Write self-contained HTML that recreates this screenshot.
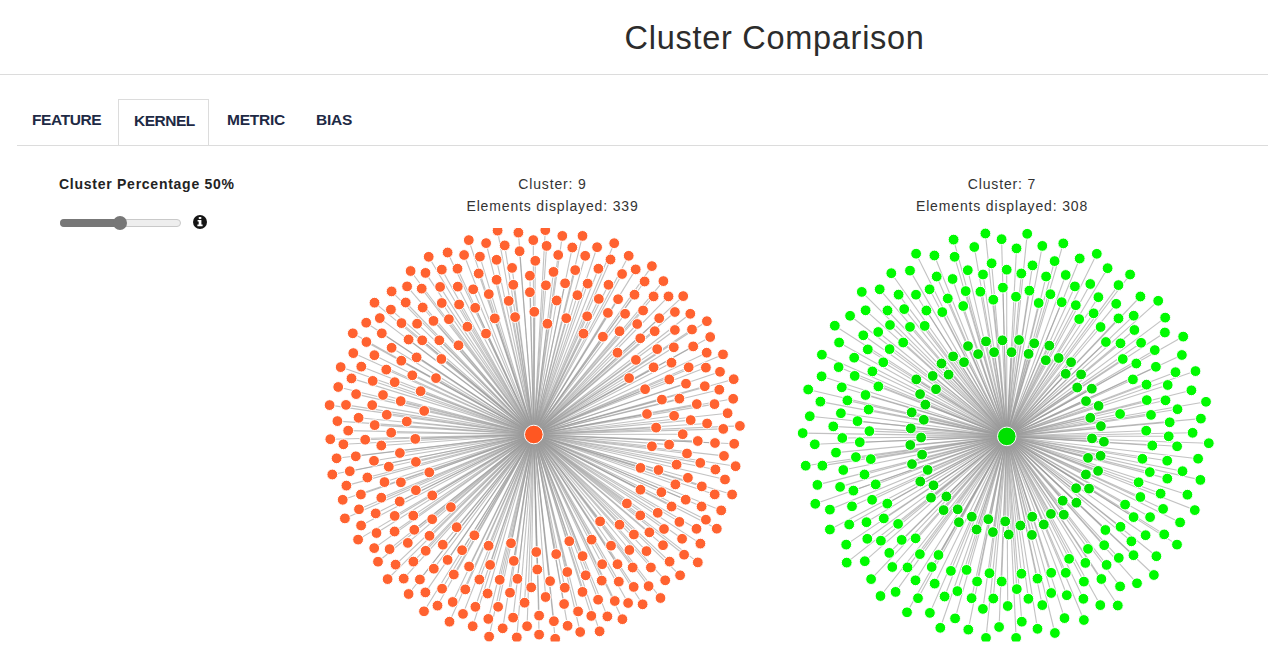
<!DOCTYPE html>
<html><head><meta charset="utf-8"><title>Cluster Comparison</title>
<style>
html,body{margin:0;padding:0;background:#fff;width:1268px;height:672px;overflow:hidden;}
body{font-family:"Liberation Sans",sans-serif;color:#333;position:relative;}
.abs{position:absolute;white-space:nowrap;}
h1{position:absolute;margin:0;left:624.5px;top:20.5px;font-size:32.5px;line-height:34px;font-weight:normal;color:#2c2c2c;letter-spacing:0.72px;}
.hr1{position:absolute;left:0;top:74px;width:1268px;height:1px;background:#dcdcdc;}
.hr2{position:absolute;left:17px;top:145px;width:1251px;height:1px;background:#dcdcdc;}
.tab{position:absolute;font-weight:bold;font-size:15.5px;line-height:16px;color:#1e2a45;top:112.3px;letter-spacing:-0.25px;}
.tabbox{position:absolute;left:118px;top:99px;width:89px;height:46px;border:1px solid #dcdcdc;border-bottom:none;background:#fff;}
.lbl{position:absolute;font-weight:bold;font-size:14px;line-height:14px;color:#232323;left:59px;top:177px;letter-spacing:0.74px;}
.track{position:absolute;left:60px;top:219px;width:119px;height:6px;border-radius:4px;background:#eeeeee;border:1px solid #c9c9c9;}
.fill{position:absolute;left:60px;top:219px;width:62px;height:8px;border-radius:4px;background:#777;}
.thumb{position:absolute;left:113px;top:216px;width:14px;height:14px;border-radius:50%;background:#777;}
.info{position:absolute;left:193.2px;top:214.9px;width:14px;height:14px;border-radius:50%;background:#151515;}
.cap{position:absolute;font-size:14px;line-height:22px;color:#333;text-align:center;width:300px;letter-spacing:0.85px;}
svg{position:absolute;left:0;top:0;}
.lk line{stroke:#999;stroke-opacity:0.6;stroke-width:1.1;}

.on circle{fill:#ff6230;stroke:#fff;stroke-width:1;}
.gn circle{fill:#00fa00;stroke:#fff;stroke-width:1;} .gn .in{fill:#00e200;}
.on .ctr{fill:#ff5722;} .gn .ctr{fill:#00e000;}
</style></head><body>
<h1>Cluster Comparison</h1>
<div class="hr1"></div>
<div class="tabbox"></div>
<div class="hr2"></div>
<div class="tab" style="left:32px;letter-spacing:-0.4px">FEATURE</div>
<div class="tab" style="left:134px;top:112.8px;letter-spacing:-0.5px">KERNEL</div>
<div class="tab" style="left:227px">METRIC</div>
<div class="tab" style="left:316px">BIAS</div>
<div class="lbl">Cluster Percentage 50%</div>
<div class="track"></div><div class="fill"></div><div class="thumb"></div>
<div class="info"><svg width="14" height="14" viewBox="0 0 14 14" style="position:absolute;left:0;top:0"><rect x="5.6" y="2.1" width="2.9" height="1.9" rx="0.9" fill="#fff"/><path d="M4.6 5H8.4V9.6H9.6V11.2H4.4V9.6H5.7V6.4H4.6Z" fill="#fff"/></svg></div>
<div class="cap" style="left:402.5px;top:173px">Cluster: 9<br>Elements displayed: 339</div>
<div class="cap" style="left:852px;top:173px">Cluster: 7<br>Elements displayed: 308</div>
<svg width="1268" height="672" viewBox="0 0 1268 672"><defs><clipPath id="cp"><rect x="0" y="228" width="1268" height="413.6"/></clipPath></defs><g clip-path="url(#cp)"><g class="lk"><line x1="533.8" y1="434.5" x2="497.6" y2="230.6"/><line x1="533.8" y1="434.5" x2="518.4" y2="232.6"/><line x1="533.8" y1="434.5" x2="533.3" y2="240.1"/><line x1="533.8" y1="434.5" x2="468.8" y2="240.1"/><line x1="533.8" y1="434.5" x2="486.1" y2="243.1"/><line x1="533.8" y1="434.5" x2="504.7" y2="245.4"/><line x1="533.8" y1="434.5" x2="519.6" y2="251.2"/><line x1="533.8" y1="434.5" x2="447.6" y2="252.5"/><line x1="533.8" y1="434.5" x2="464.1" y2="255.0"/><line x1="533.8" y1="434.5" x2="479.9" y2="256.6"/><line x1="533.8" y1="434.5" x2="428.7" y2="256.8"/><line x1="533.8" y1="434.5" x2="496.6" y2="259.8"/><line x1="533.8" y1="434.5" x2="535.3" y2="260.8"/><line x1="533.8" y1="434.5" x2="512.1" y2="267.9"/><line x1="533.8" y1="434.5" x2="410.6" y2="271.0"/><line x1="533.8" y1="434.5" x2="425.5" y2="272.9"/><line x1="533.8" y1="434.5" x2="441.8" y2="269.6"/><line x1="533.8" y1="434.5" x2="457.5" y2="268.7"/><line x1="533.8" y1="434.5" x2="478.7" y2="273.5"/><line x1="533.8" y1="434.5" x2="529.9" y2="275.7"/><line x1="533.8" y1="434.5" x2="496.6" y2="279.8"/><line x1="533.8" y1="434.5" x2="513.3" y2="284.8"/><line x1="533.8" y1="434.5" x2="407.1" y2="286.4"/><line x1="533.8" y1="434.5" x2="421.7" y2="288.6"/><line x1="533.8" y1="434.5" x2="440.1" y2="286.9"/><line x1="533.8" y1="434.5" x2="457.8" y2="286.6"/><line x1="533.8" y1="434.5" x2="473.2" y2="289.3"/><line x1="533.8" y1="434.5" x2="391.6" y2="291.4"/><line x1="533.8" y1="434.5" x2="488.8" y2="294.1"/><line x1="533.8" y1="434.5" x2="529.9" y2="292.2"/><line x1="533.8" y1="434.5" x2="374.5" y2="302.7"/><line x1="533.8" y1="434.5" x2="405.7" y2="302.5"/><line x1="533.8" y1="434.5" x2="441.8" y2="303.0"/><line x1="533.8" y1="434.5" x2="459.1" y2="304.5"/><line x1="533.8" y1="434.5" x2="508.7" y2="300.9"/><line x1="533.8" y1="434.5" x2="422.7" y2="307.5"/><line x1="533.8" y1="434.5" x2="390.9" y2="309.6"/><line x1="533.8" y1="434.5" x2="475.2" y2="307.8"/><line x1="533.8" y1="434.5" x2="534.3" y2="311.8"/><line x1="533.8" y1="434.5" x2="379.8" y2="318.1"/><line x1="533.8" y1="434.5" x2="494.8" y2="318.4"/><line x1="533.8" y1="434.5" x2="515.1" y2="317.1"/><line x1="533.8" y1="434.5" x2="366.2" y2="322.7"/><line x1="533.8" y1="434.5" x2="401.5" y2="323.1"/><line x1="533.8" y1="434.5" x2="417.1" y2="323.7"/><line x1="533.8" y1="434.5" x2="433.5" y2="320.9"/><line x1="533.8" y1="434.5" x2="448.9" y2="319.2"/><line x1="533.8" y1="434.5" x2="467.4" y2="326.7"/><line x1="533.8" y1="434.5" x2="352.8" y2="333.3"/><line x1="533.8" y1="434.5" x2="381.8" y2="333.3"/><line x1="533.8" y1="434.5" x2="486.0" y2="333.6"/><line x1="533.8" y1="434.5" x2="545.3" y2="230.1"/><line x1="533.8" y1="434.5" x2="562.3" y2="235.9"/><line x1="533.8" y1="434.5" x2="582.5" y2="235.9"/><line x1="533.8" y1="434.5" x2="614.2" y2="243.2"/><line x1="533.8" y1="434.5" x2="546.6" y2="245.9"/><line x1="533.8" y1="434.5" x2="572.3" y2="247.5"/><line x1="533.8" y1="434.5" x2="597.1" y2="247.2"/><line x1="533.8" y1="434.5" x2="558.2" y2="255.0"/><line x1="533.8" y1="434.5" x2="585.2" y2="255.8"/><line x1="533.8" y1="434.5" x2="628.7" y2="255.8"/><line x1="533.8" y1="434.5" x2="610.5" y2="259.5"/><line x1="533.8" y1="434.5" x2="651.9" y2="266.1"/><line x1="533.8" y1="434.5" x2="553.5" y2="271.9"/><line x1="533.8" y1="434.5" x2="575.2" y2="270.1"/><line x1="533.8" y1="434.5" x2="598.4" y2="268.7"/><line x1="533.8" y1="434.5" x2="622.1" y2="274.0"/><line x1="533.8" y1="434.5" x2="635.7" y2="269.4"/><line x1="533.8" y1="434.5" x2="644.6" y2="281.5"/><line x1="533.8" y1="434.5" x2="663.4" y2="281.1"/><line x1="533.8" y1="434.5" x2="545.9" y2="285.3"/><line x1="533.8" y1="434.5" x2="565.1" y2="283.3"/><line x1="533.8" y1="434.5" x2="587.7" y2="283.6"/><line x1="533.8" y1="434.5" x2="608.5" y2="284.8"/><line x1="533.8" y1="434.5" x2="556.7" y2="300.5"/><line x1="533.8" y1="434.5" x2="577.4" y2="295.2"/><line x1="533.8" y1="434.5" x2="598.8" y2="298.9"/><line x1="533.8" y1="434.5" x2="618.1" y2="299.2"/><line x1="533.8" y1="434.5" x2="634.5" y2="294.7"/><line x1="533.8" y1="434.5" x2="653.6" y2="296.4"/><line x1="533.8" y1="434.5" x2="668.5" y2="296.4"/><line x1="533.8" y1="434.5" x2="683.2" y2="296.1"/><line x1="533.8" y1="434.5" x2="607.9" y2="312.9"/><line x1="533.8" y1="434.5" x2="625.1" y2="313.8"/><line x1="533.8" y1="434.5" x2="643.1" y2="310.5"/><line x1="533.8" y1="434.5" x2="674.9" y2="312.0"/><line x1="533.8" y1="434.5" x2="690.3" y2="313.8"/><line x1="533.8" y1="434.5" x2="659.2" y2="318.2"/><line x1="533.8" y1="434.5" x2="547.4" y2="323.7"/><line x1="533.8" y1="434.5" x2="566.3" y2="318.2"/><line x1="533.8" y1="434.5" x2="587.2" y2="316.3"/><line x1="533.8" y1="434.5" x2="637.2" y2="324.0"/><line x1="533.8" y1="434.5" x2="706.9" y2="321.2"/><line x1="533.8" y1="434.5" x2="619.6" y2="331.2"/><line x1="533.8" y1="434.5" x2="654.7" y2="331.2"/><line x1="533.8" y1="434.5" x2="674.9" y2="330.0"/><line x1="533.8" y1="434.5" x2="692.0" y2="329.5"/><line x1="533.8" y1="434.5" x2="583.5" y2="333.6"/><line x1="533.8" y1="434.5" x2="602.9" y2="336.7"/><line x1="533.8" y1="434.5" x2="640.3" y2="338.3"/><line x1="533.8" y1="434.5" x2="710.2" y2="337.0"/><line x1="533.8" y1="434.5" x2="408.6" y2="339.5"/><line x1="533.8" y1="434.5" x2="422.2" y2="340.3"/><line x1="533.8" y1="434.5" x2="439.3" y2="340.3"/><line x1="533.8" y1="434.5" x2="366.4" y2="342.0"/><line x1="533.8" y1="434.5" x2="391.6" y2="347.8"/><line x1="533.8" y1="434.5" x2="458.5" y2="345.3"/><line x1="533.8" y1="434.5" x2="353.3" y2="353.1"/><line x1="533.8" y1="434.5" x2="374.4" y2="355.2"/><line x1="533.8" y1="434.5" x2="416.6" y2="357.4"/><line x1="533.8" y1="434.5" x2="441.4" y2="359.0"/><line x1="533.8" y1="434.5" x2="401.3" y2="360.7"/><line x1="533.8" y1="434.5" x2="340.7" y2="367.1"/><line x1="533.8" y1="434.5" x2="361.3" y2="366.6"/><line x1="533.8" y1="434.5" x2="386.3" y2="369.6"/><line x1="533.8" y1="434.5" x2="412.3" y2="375.3"/><line x1="533.8" y1="434.5" x2="436.0" y2="378.1"/><line x1="533.8" y1="434.5" x2="351.5" y2="378.4"/><line x1="533.8" y1="434.5" x2="372.7" y2="380.9"/><line x1="533.8" y1="434.5" x2="394.7" y2="382.2"/><line x1="533.8" y1="434.5" x2="338.2" y2="387.0"/><line x1="533.8" y1="434.5" x2="420.6" y2="391.2"/><line x1="533.8" y1="434.5" x2="356.1" y2="394.1"/><line x1="533.8" y1="434.5" x2="383.0" y2="395.0"/><line x1="533.8" y1="434.5" x2="400.7" y2="401.1"/><line x1="533.8" y1="434.5" x2="329.6" y2="405.1"/><line x1="533.8" y1="434.5" x2="346.0" y2="404.9"/><line x1="533.8" y1="434.5" x2="372.2" y2="405.1"/><line x1="533.8" y1="434.5" x2="424.2" y2="410.9"/><line x1="533.8" y1="434.5" x2="386.8" y2="414.8"/><line x1="533.8" y1="434.5" x2="358.6" y2="417.8"/><line x1="533.8" y1="434.5" x2="337.4" y2="421.1"/><line x1="533.8" y1="434.5" x2="406.8" y2="421.5"/><line x1="533.8" y1="434.5" x2="374.7" y2="425.1"/><line x1="533.8" y1="434.5" x2="348.2" y2="430.6"/><line x1="533.8" y1="434.5" x2="391.2" y2="432.7"/><line x1="533.8" y1="434.5" x2="415.3" y2="438.9"/><line x1="533.8" y1="434.5" x2="330.3" y2="439.2"/><line x1="533.8" y1="434.5" x2="365.2" y2="439.7"/><line x1="533.8" y1="434.5" x2="343.4" y2="444.3"/><line x1="533.8" y1="434.5" x2="381.3" y2="445.5"/><line x1="533.8" y1="434.5" x2="617.5" y2="352.7"/><line x1="533.8" y1="434.5" x2="657.2" y2="349.1"/><line x1="533.8" y1="434.5" x2="673.8" y2="347.3"/><line x1="533.8" y1="434.5" x2="693.2" y2="346.4"/><line x1="533.8" y1="434.5" x2="706.7" y2="352.7"/><line x1="533.8" y1="434.5" x2="723.0" y2="354.4"/><line x1="533.8" y1="434.5" x2="635.9" y2="359.9"/><line x1="533.8" y1="434.5" x2="653.6" y2="367.3"/><line x1="533.8" y1="434.5" x2="671.5" y2="362.7"/><line x1="533.8" y1="434.5" x2="688.7" y2="367.3"/><line x1="533.8" y1="434.5" x2="705.9" y2="367.6"/><line x1="533.8" y1="434.5" x2="720.0" y2="371.8"/><line x1="533.8" y1="434.5" x2="629.1" y2="378.1"/><line x1="533.8" y1="434.5" x2="669.3" y2="379.4"/><line x1="533.8" y1="434.5" x2="686.0" y2="383.7"/><line x1="533.8" y1="434.5" x2="704.8" y2="386.2"/><line x1="533.8" y1="434.5" x2="733.7" y2="379.2"/><line x1="533.8" y1="434.5" x2="645.1" y2="389.2"/><line x1="533.8" y1="434.5" x2="719.3" y2="389.7"/><line x1="533.8" y1="434.5" x2="661.9" y2="399.6"/><line x1="533.8" y1="434.5" x2="679.4" y2="398.6"/><line x1="533.8" y1="434.5" x2="696.8" y2="404.1"/><line x1="533.8" y1="434.5" x2="714.5" y2="404.1"/><line x1="533.8" y1="434.5" x2="733.2" y2="398.8"/><line x1="533.8" y1="434.5" x2="647.0" y2="414.0"/><line x1="533.8" y1="434.5" x2="674.1" y2="415.8"/><line x1="533.8" y1="434.5" x2="690.7" y2="420.1"/><line x1="533.8" y1="434.5" x2="727.6" y2="413.2"/><line x1="533.8" y1="434.5" x2="707.1" y2="423.5"/><line x1="533.8" y1="434.5" x2="739.9" y2="425.9"/><line x1="533.8" y1="434.5" x2="723.3" y2="428.9"/><line x1="533.8" y1="434.5" x2="656.1" y2="427.6"/><line x1="533.8" y1="434.5" x2="682.7" y2="434.2"/><line x1="533.8" y1="434.5" x2="697.8" y2="441.0"/><line x1="533.8" y1="434.5" x2="715.0" y2="443.0"/><line x1="533.8" y1="434.5" x2="734.2" y2="443.8"/><line x1="533.8" y1="434.5" x2="651.9" y2="446.3"/><line x1="533.8" y1="434.5" x2="669.1" y2="444.6"/><line x1="533.8" y1="434.5" x2="399.9" y2="453.0"/><line x1="533.8" y1="434.5" x2="336.6" y2="458.3"/><line x1="533.8" y1="434.5" x2="355.8" y2="456.3"/><line x1="533.8" y1="434.5" x2="374.0" y2="460.8"/><line x1="533.8" y1="434.5" x2="415.9" y2="461.9"/><line x1="533.8" y1="434.5" x2="388.8" y2="466.7"/><line x1="533.8" y1="434.5" x2="332.3" y2="474.5"/><line x1="533.8" y1="434.5" x2="349.8" y2="471.2"/><line x1="533.8" y1="434.5" x2="429.3" y2="472.3"/><line x1="533.8" y1="434.5" x2="367.4" y2="477.5"/><line x1="533.8" y1="434.5" x2="384.5" y2="482.1"/><line x1="533.8" y1="434.5" x2="400.9" y2="482.3"/><line x1="533.8" y1="434.5" x2="346.4" y2="485.6"/><line x1="533.8" y1="434.5" x2="415.9" y2="490.2"/><line x1="533.8" y1="434.5" x2="360.9" y2="494.5"/><line x1="533.8" y1="434.5" x2="432.3" y2="495.4"/><line x1="533.8" y1="434.5" x2="381.3" y2="497.7"/><line x1="533.8" y1="434.5" x2="342.7" y2="499.8"/><line x1="533.8" y1="434.5" x2="399.7" y2="501.5"/><line x1="533.8" y1="434.5" x2="450.9" y2="507.1"/><line x1="533.8" y1="434.5" x2="359.0" y2="509.3"/><line x1="533.8" y1="434.5" x2="375.7" y2="513.4"/><line x1="533.8" y1="434.5" x2="394.7" y2="515.9"/><line x1="533.8" y1="434.5" x2="413.3" y2="515.6"/><line x1="533.8" y1="434.5" x2="432.2" y2="519.2"/><line x1="533.8" y1="434.5" x2="344.9" y2="518.4"/><line x1="533.8" y1="434.5" x2="361.1" y2="525.5"/><line x1="533.8" y1="434.5" x2="456.7" y2="527.2"/><line x1="533.8" y1="434.5" x2="376.5" y2="533.0"/><line x1="533.8" y1="434.5" x2="394.6" y2="531.5"/><line x1="533.8" y1="434.5" x2="414.3" y2="529.8"/><line x1="533.8" y1="434.5" x2="429.5" y2="535.8"/><line x1="533.8" y1="434.5" x2="474.4" y2="535.3"/><line x1="533.8" y1="434.5" x2="358.1" y2="539.6"/><line x1="533.8" y1="434.5" x2="442.8" y2="544.7"/><line x1="533.8" y1="434.5" x2="374.2" y2="548.1"/><line x1="533.8" y1="434.5" x2="389.6" y2="549.1"/><line x1="533.8" y1="434.5" x2="407.8" y2="542.9"/><line x1="533.8" y1="434.5" x2="425.7" y2="550.8"/><line x1="533.8" y1="434.5" x2="462.1" y2="550.2"/><line x1="533.8" y1="434.5" x2="488.6" y2="545.7"/><line x1="533.8" y1="434.5" x2="511.0" y2="543.2"/><line x1="533.8" y1="434.5" x2="687.0" y2="453.5"/><line x1="533.8" y1="434.5" x2="724.0" y2="455.9"/><line x1="533.8" y1="434.5" x2="640.5" y2="467.9"/><line x1="533.8" y1="434.5" x2="658.5" y2="470.0"/><line x1="533.8" y1="434.5" x2="676.6" y2="464.6"/><line x1="533.8" y1="434.5" x2="700.3" y2="462.9"/><line x1="533.8" y1="434.5" x2="715.4" y2="469.5"/><line x1="533.8" y1="434.5" x2="735.6" y2="466.2"/><line x1="533.8" y1="434.5" x2="687.9" y2="477.8"/><line x1="533.8" y1="434.5" x2="725.0" y2="479.5"/><line x1="533.8" y1="434.5" x2="675.4" y2="484.4"/><line x1="533.8" y1="434.5" x2="701.8" y2="486.4"/><line x1="533.8" y1="434.5" x2="640.5" y2="489.7"/><line x1="533.8" y1="434.5" x2="661.4" y2="492.2"/><line x1="533.8" y1="434.5" x2="714.7" y2="494.4"/><line x1="533.8" y1="434.5" x2="732.1" y2="494.5"/><line x1="533.8" y1="434.5" x2="626.9" y2="503.5"/><line x1="533.8" y1="434.5" x2="685.7" y2="499.7"/><line x1="533.8" y1="434.5" x2="671.6" y2="506.5"/><line x1="533.8" y1="434.5" x2="701.6" y2="506.5"/><line x1="533.8" y1="434.5" x2="721.2" y2="510.4"/><line x1="533.8" y1="434.5" x2="640.3" y2="515.4"/><line x1="533.8" y1="434.5" x2="657.7" y2="512.8"/><line x1="533.8" y1="434.5" x2="705.9" y2="519.7"/><line x1="533.8" y1="434.5" x2="600.1" y2="521.4"/><line x1="533.8" y1="434.5" x2="619.5" y2="524.7"/><line x1="533.8" y1="434.5" x2="679.4" y2="521.9"/><line x1="533.8" y1="434.5" x2="664.0" y2="529.0"/><line x1="533.8" y1="434.5" x2="696.5" y2="528.8"/><line x1="533.8" y1="434.5" x2="716.8" y2="528.7"/><line x1="533.8" y1="434.5" x2="633.9" y2="534.5"/><line x1="533.8" y1="434.5" x2="649.4" y2="532.3"/><line x1="533.8" y1="434.5" x2="682.1" y2="538.8"/><line x1="533.8" y1="434.5" x2="700.4" y2="543.6"/><line x1="533.8" y1="434.5" x2="569.3" y2="541.2"/><line x1="533.8" y1="434.5" x2="591.6" y2="539.6"/><line x1="533.8" y1="434.5" x2="611.0" y2="545.7"/><line x1="533.8" y1="434.5" x2="629.4" y2="550.0"/><line x1="533.8" y1="434.5" x2="663.0" y2="545.2"/><line x1="533.8" y1="434.5" x2="646.5" y2="551.1"/><line x1="533.8" y1="434.5" x2="536.3" y2="552.0"/><line x1="533.8" y1="434.5" x2="556.2" y2="554.1"/><line x1="533.8" y1="434.5" x2="582.6" y2="556.1"/><line x1="533.8" y1="434.5" x2="684.1" y2="554.7"/><line x1="533.8" y1="434.5" x2="378.0" y2="561.7"/><line x1="533.8" y1="434.5" x2="395.6" y2="564.6"/><line x1="533.8" y1="434.5" x2="413.4" y2="561.6"/><line x1="533.8" y1="434.5" x2="447.6" y2="559.9"/><line x1="533.8" y1="434.5" x2="433.8" y2="568.7"/><line x1="533.8" y1="434.5" x2="469.1" y2="566.5"/><line x1="533.8" y1="434.5" x2="490.1" y2="564.9"/><line x1="533.8" y1="434.5" x2="513.8" y2="560.9"/><line x1="533.8" y1="434.5" x2="387.6" y2="579.1"/><line x1="533.8" y1="434.5" x2="403.7" y2="578.6"/><line x1="533.8" y1="434.5" x2="419.9" y2="579.5"/><line x1="533.8" y1="434.5" x2="453.8" y2="574.5"/><line x1="533.8" y1="434.5" x2="479.4" y2="579.5"/><line x1="533.8" y1="434.5" x2="499.7" y2="579.8"/><line x1="533.8" y1="434.5" x2="517.4" y2="578.8"/><line x1="533.8" y1="434.5" x2="531.2" y2="587.4"/><line x1="533.8" y1="434.5" x2="408.6" y2="594.0"/><line x1="533.8" y1="434.5" x2="425.4" y2="592.4"/><line x1="533.8" y1="434.5" x2="442.1" y2="588.7"/><line x1="533.8" y1="434.5" x2="465.3" y2="589.4"/><line x1="533.8" y1="434.5" x2="487.6" y2="593.5"/><line x1="533.8" y1="434.5" x2="510.0" y2="592.7"/><line x1="533.8" y1="434.5" x2="524.6" y2="602.7"/><line x1="533.8" y1="434.5" x2="424.0" y2="611.3"/><line x1="533.8" y1="434.5" x2="437.5" y2="605.6"/><line x1="533.8" y1="434.5" x2="452.7" y2="602.0"/><line x1="533.8" y1="434.5" x2="475.4" y2="606.8"/><line x1="533.8" y1="434.5" x2="498.1" y2="606.8"/><line x1="533.8" y1="434.5" x2="463.0" y2="613.9"/><line x1="533.8" y1="434.5" x2="449.5" y2="621.7"/><line x1="533.8" y1="434.5" x2="488.3" y2="618.9"/><line x1="533.8" y1="434.5" x2="513.1" y2="617.6"/><line x1="533.8" y1="434.5" x2="472.7" y2="626.2"/><line x1="533.8" y1="434.5" x2="502.7" y2="628.3"/><line x1="533.8" y1="434.5" x2="527.1" y2="626.2"/><line x1="533.8" y1="434.5" x2="489.1" y2="636.6"/><line x1="533.8" y1="434.5" x2="516.8" y2="637.4"/><line x1="533.8" y1="434.5" x2="537.3" y2="569.5"/><line x1="533.8" y1="434.5" x2="567.3" y2="572.0"/><line x1="533.8" y1="434.5" x2="585.7" y2="575.3"/><line x1="533.8" y1="434.5" x2="602.2" y2="564.2"/><line x1="533.8" y1="434.5" x2="617.5" y2="564.2"/><line x1="533.8" y1="434.5" x2="632.7" y2="567.5"/><line x1="533.8" y1="434.5" x2="650.9" y2="567.5"/><line x1="533.8" y1="434.5" x2="669.6" y2="561.6"/><line x1="533.8" y1="434.5" x2="697.8" y2="562.4"/><line x1="533.8" y1="434.5" x2="680.1" y2="575.3"/><line x1="533.8" y1="434.5" x2="550.1" y2="581.1"/><line x1="533.8" y1="434.5" x2="601.7" y2="580.6"/><line x1="533.8" y1="434.5" x2="618.8" y2="581.6"/><line x1="533.8" y1="434.5" x2="633.7" y2="586.9"/><line x1="533.8" y1="434.5" x2="648.6" y2="586.1"/><line x1="533.8" y1="434.5" x2="665.2" y2="580.3"/><line x1="533.8" y1="434.5" x2="564.8" y2="587.7"/><line x1="533.8" y1="434.5" x2="582.5" y2="591.9"/><line x1="533.8" y1="434.5" x2="545.6" y2="597.0"/><line x1="533.8" y1="434.5" x2="598.1" y2="599.7"/><line x1="533.8" y1="434.5" x2="614.8" y2="601.0"/><line x1="533.8" y1="434.5" x2="628.1" y2="603.0"/><line x1="533.8" y1="434.5" x2="642.6" y2="604.3"/><line x1="533.8" y1="434.5" x2="660.5" y2="598.0"/><line x1="533.8" y1="434.5" x2="564.1" y2="604.0"/><line x1="533.8" y1="434.5" x2="578.1" y2="611.4"/><line x1="533.8" y1="434.5" x2="539.1" y2="615.6"/><line x1="533.8" y1="434.5" x2="591.3" y2="615.9"/><line x1="533.8" y1="434.5" x2="607.4" y2="616.4"/><line x1="533.8" y1="434.5" x2="622.4" y2="619.2"/><line x1="533.8" y1="434.5" x2="553.9" y2="621.2"/><line x1="533.8" y1="434.5" x2="567.6" y2="625.8"/><line x1="533.8" y1="434.5" x2="580.2" y2="632.0"/><line x1="533.8" y1="434.5" x2="599.6" y2="631.3"/><line x1="533.8" y1="434.5" x2="539.1" y2="634.6"/><line x1="533.8" y1="434.5" x2="555.2" y2="638.8"/></g><g class="on"><circle cx="497.6" cy="230.6" r="5.4"/><circle cx="518.4" cy="232.6" r="5.4"/><circle cx="533.3" cy="240.1" r="5.4"/><circle cx="468.8" cy="240.1" r="5.4"/><circle cx="486.1" cy="243.1" r="5.4"/><circle cx="504.7" cy="245.4" r="5.4"/><circle cx="519.6" cy="251.2" r="5.4"/><circle cx="447.6" cy="252.5" r="5.4"/><circle cx="464.1" cy="255.0" r="5.4"/><circle cx="479.9" cy="256.6" r="5.4"/><circle cx="428.7" cy="256.8" r="5.4"/><circle cx="496.6" cy="259.8" r="5.4"/><circle cx="535.3" cy="260.8" r="5.4"/><circle cx="512.1" cy="267.9" r="5.4"/><circle cx="410.6" cy="271.0" r="5.4"/><circle cx="425.5" cy="272.9" r="5.4"/><circle cx="441.8" cy="269.6" r="5.4"/><circle cx="457.5" cy="268.7" r="5.4"/><circle cx="478.7" cy="273.5" r="5.4"/><circle cx="529.9" cy="275.7" r="5.4"/><circle cx="496.6" cy="279.8" r="5.4"/><circle cx="513.3" cy="284.8" r="5.4"/><circle cx="407.1" cy="286.4" r="5.4"/><circle cx="421.7" cy="288.6" r="5.4"/><circle cx="440.1" cy="286.9" r="5.4"/><circle cx="457.8" cy="286.6" r="5.4"/><circle cx="473.2" cy="289.3" r="5.4"/><circle cx="391.6" cy="291.4" r="5.4"/><circle cx="488.8" cy="294.1" r="5.4"/><circle cx="529.9" cy="292.2" r="5.4"/><circle cx="374.5" cy="302.7" r="5.4"/><circle cx="405.7" cy="302.5" r="5.4"/><circle cx="441.8" cy="303.0" r="5.4"/><circle cx="459.1" cy="304.5" r="5.4"/><circle cx="508.7" cy="300.9" r="5.4"/><circle cx="422.7" cy="307.5" r="5.4"/><circle cx="390.9" cy="309.6" r="5.4"/><circle cx="475.2" cy="307.8" r="5.4"/><circle cx="534.3" cy="311.8" r="5.4"/><circle cx="379.8" cy="318.1" r="5.4"/><circle cx="494.8" cy="318.4" r="5.4"/><circle cx="515.1" cy="317.1" r="5.4"/><circle cx="366.2" cy="322.7" r="5.4"/><circle cx="401.5" cy="323.1" r="5.4"/><circle cx="417.1" cy="323.7" r="5.4"/><circle cx="433.5" cy="320.9" r="5.4"/><circle cx="448.9" cy="319.2" r="5.4"/><circle cx="467.4" cy="326.7" r="5.4"/><circle cx="352.8" cy="333.3" r="5.4"/><circle cx="381.8" cy="333.3" r="5.4"/><circle cx="486.0" cy="333.6" r="5.4"/><circle cx="545.3" cy="230.1" r="5.4"/><circle cx="562.3" cy="235.9" r="5.4"/><circle cx="582.5" cy="235.9" r="5.4"/><circle cx="614.2" cy="243.2" r="5.4"/><circle cx="546.6" cy="245.9" r="5.4"/><circle cx="572.3" cy="247.5" r="5.4"/><circle cx="597.1" cy="247.2" r="5.4"/><circle cx="558.2" cy="255.0" r="5.4"/><circle cx="585.2" cy="255.8" r="5.4"/><circle cx="628.7" cy="255.8" r="5.4"/><circle cx="610.5" cy="259.5" r="5.4"/><circle cx="651.9" cy="266.1" r="5.4"/><circle cx="553.5" cy="271.9" r="5.4"/><circle cx="575.2" cy="270.1" r="5.4"/><circle cx="598.4" cy="268.7" r="5.4"/><circle cx="622.1" cy="274.0" r="5.4"/><circle cx="635.7" cy="269.4" r="5.4"/><circle cx="644.6" cy="281.5" r="5.4"/><circle cx="663.4" cy="281.1" r="5.4"/><circle cx="545.9" cy="285.3" r="5.4"/><circle cx="565.1" cy="283.3" r="5.4"/><circle cx="587.7" cy="283.6" r="5.4"/><circle cx="608.5" cy="284.8" r="5.4"/><circle cx="556.7" cy="300.5" r="5.4"/><circle cx="577.4" cy="295.2" r="5.4"/><circle cx="598.8" cy="298.9" r="5.4"/><circle cx="618.1" cy="299.2" r="5.4"/><circle cx="634.5" cy="294.7" r="5.4"/><circle cx="653.6" cy="296.4" r="5.4"/><circle cx="668.5" cy="296.4" r="5.4"/><circle cx="683.2" cy="296.1" r="5.4"/><circle cx="607.9" cy="312.9" r="5.4"/><circle cx="625.1" cy="313.8" r="5.4"/><circle cx="643.1" cy="310.5" r="5.4"/><circle cx="674.9" cy="312.0" r="5.4"/><circle cx="690.3" cy="313.8" r="5.4"/><circle cx="659.2" cy="318.2" r="5.4"/><circle cx="547.4" cy="323.7" r="5.4"/><circle cx="566.3" cy="318.2" r="5.4"/><circle cx="587.2" cy="316.3" r="5.4"/><circle cx="637.2" cy="324.0" r="5.4"/><circle cx="706.9" cy="321.2" r="5.4"/><circle cx="619.6" cy="331.2" r="5.4"/><circle cx="654.7" cy="331.2" r="5.4"/><circle cx="674.9" cy="330.0" r="5.4"/><circle cx="692.0" cy="329.5" r="5.4"/><circle cx="583.5" cy="333.6" r="5.4"/><circle cx="602.9" cy="336.7" r="5.4"/><circle cx="640.3" cy="338.3" r="5.4"/><circle cx="710.2" cy="337.0" r="5.4"/><circle cx="408.6" cy="339.5" r="5.4"/><circle cx="422.2" cy="340.3" r="5.4"/><circle cx="439.3" cy="340.3" r="5.4"/><circle cx="366.4" cy="342.0" r="5.4"/><circle cx="391.6" cy="347.8" r="5.4"/><circle cx="458.5" cy="345.3" r="5.4"/><circle cx="353.3" cy="353.1" r="5.4"/><circle cx="374.4" cy="355.2" r="5.4"/><circle cx="416.6" cy="357.4" r="5.4"/><circle cx="441.4" cy="359.0" r="5.4"/><circle cx="401.3" cy="360.7" r="5.4"/><circle cx="340.7" cy="367.1" r="5.4"/><circle cx="361.3" cy="366.6" r="5.4"/><circle cx="386.3" cy="369.6" r="5.4"/><circle cx="412.3" cy="375.3" r="5.4"/><circle cx="436.0" cy="378.1" r="5.4"/><circle cx="351.5" cy="378.4" r="5.4"/><circle cx="372.7" cy="380.9" r="5.4"/><circle cx="394.7" cy="382.2" r="5.4"/><circle cx="338.2" cy="387.0" r="5.4"/><circle cx="420.6" cy="391.2" r="5.4"/><circle cx="356.1" cy="394.1" r="5.4"/><circle cx="383.0" cy="395.0" r="5.4"/><circle cx="400.7" cy="401.1" r="5.4"/><circle cx="329.6" cy="405.1" r="5.4"/><circle cx="346.0" cy="404.9" r="5.4"/><circle cx="372.2" cy="405.1" r="5.4"/><circle cx="424.2" cy="410.9" r="5.4"/><circle cx="386.8" cy="414.8" r="5.4"/><circle cx="358.6" cy="417.8" r="5.4"/><circle cx="337.4" cy="421.1" r="5.4"/><circle cx="406.8" cy="421.5" r="5.4"/><circle cx="374.7" cy="425.1" r="5.4"/><circle cx="348.2" cy="430.6" r="5.4"/><circle cx="391.2" cy="432.7" r="5.4"/><circle cx="415.3" cy="438.9" r="5.4"/><circle cx="330.3" cy="439.2" r="5.4"/><circle cx="365.2" cy="439.7" r="5.4"/><circle cx="343.4" cy="444.3" r="5.4"/><circle cx="381.3" cy="445.5" r="5.4"/><circle cx="617.5" cy="352.7" r="5.4"/><circle cx="657.2" cy="349.1" r="5.4"/><circle cx="673.8" cy="347.3" r="5.4"/><circle cx="693.2" cy="346.4" r="5.4"/><circle cx="706.7" cy="352.7" r="5.4"/><circle cx="723.0" cy="354.4" r="5.4"/><circle cx="635.9" cy="359.9" r="5.4"/><circle cx="653.6" cy="367.3" r="5.4"/><circle cx="671.5" cy="362.7" r="5.4"/><circle cx="688.7" cy="367.3" r="5.4"/><circle cx="705.9" cy="367.6" r="5.4"/><circle cx="720.0" cy="371.8" r="5.4"/><circle cx="629.1" cy="378.1" r="5.4"/><circle cx="669.3" cy="379.4" r="5.4"/><circle cx="686.0" cy="383.7" r="5.4"/><circle cx="704.8" cy="386.2" r="5.4"/><circle cx="733.7" cy="379.2" r="5.4"/><circle cx="645.1" cy="389.2" r="5.4"/><circle cx="719.3" cy="389.7" r="5.4"/><circle cx="661.9" cy="399.6" r="5.4"/><circle cx="679.4" cy="398.6" r="5.4"/><circle cx="696.8" cy="404.1" r="5.4"/><circle cx="714.5" cy="404.1" r="5.4"/><circle cx="733.2" cy="398.8" r="5.4"/><circle cx="647.0" cy="414.0" r="5.4"/><circle cx="674.1" cy="415.8" r="5.4"/><circle cx="690.7" cy="420.1" r="5.4"/><circle cx="727.6" cy="413.2" r="5.4"/><circle cx="707.1" cy="423.5" r="5.4"/><circle cx="739.9" cy="425.9" r="5.4"/><circle cx="723.3" cy="428.9" r="5.4"/><circle cx="656.1" cy="427.6" r="5.4"/><circle cx="682.7" cy="434.2" r="5.4"/><circle cx="697.8" cy="441.0" r="5.4"/><circle cx="715.0" cy="443.0" r="5.4"/><circle cx="734.2" cy="443.8" r="5.4"/><circle cx="651.9" cy="446.3" r="5.4"/><circle cx="669.1" cy="444.6" r="5.4"/><circle cx="399.9" cy="453.0" r="5.4"/><circle cx="336.6" cy="458.3" r="5.4"/><circle cx="355.8" cy="456.3" r="5.4"/><circle cx="374.0" cy="460.8" r="5.4"/><circle cx="415.9" cy="461.9" r="5.4"/><circle cx="388.8" cy="466.7" r="5.4"/><circle cx="332.3" cy="474.5" r="5.4"/><circle cx="349.8" cy="471.2" r="5.4"/><circle cx="429.3" cy="472.3" r="5.4"/><circle cx="367.4" cy="477.5" r="5.4"/><circle cx="384.5" cy="482.1" r="5.4"/><circle cx="400.9" cy="482.3" r="5.4"/><circle cx="346.4" cy="485.6" r="5.4"/><circle cx="415.9" cy="490.2" r="5.4"/><circle cx="360.9" cy="494.5" r="5.4"/><circle cx="432.3" cy="495.4" r="5.4"/><circle cx="381.3" cy="497.7" r="5.4"/><circle cx="342.7" cy="499.8" r="5.4"/><circle cx="399.7" cy="501.5" r="5.4"/><circle cx="450.9" cy="507.1" r="5.4"/><circle cx="359.0" cy="509.3" r="5.4"/><circle cx="375.7" cy="513.4" r="5.4"/><circle cx="394.7" cy="515.9" r="5.4"/><circle cx="413.3" cy="515.6" r="5.4"/><circle cx="432.2" cy="519.2" r="5.4"/><circle cx="344.9" cy="518.4" r="5.4"/><circle cx="361.1" cy="525.5" r="5.4"/><circle cx="456.7" cy="527.2" r="5.4"/><circle cx="376.5" cy="533.0" r="5.4"/><circle cx="394.6" cy="531.5" r="5.4"/><circle cx="414.3" cy="529.8" r="5.4"/><circle cx="429.5" cy="535.8" r="5.4"/><circle cx="474.4" cy="535.3" r="5.4"/><circle cx="358.1" cy="539.6" r="5.4"/><circle cx="442.8" cy="544.7" r="5.4"/><circle cx="374.2" cy="548.1" r="5.4"/><circle cx="389.6" cy="549.1" r="5.4"/><circle cx="407.8" cy="542.9" r="5.4"/><circle cx="425.7" cy="550.8" r="5.4"/><circle cx="462.1" cy="550.2" r="5.4"/><circle cx="488.6" cy="545.7" r="5.4"/><circle cx="511.0" cy="543.2" r="5.4"/><circle cx="687.0" cy="453.5" r="5.4"/><circle cx="724.0" cy="455.9" r="5.4"/><circle cx="640.5" cy="467.9" r="5.4"/><circle cx="658.5" cy="470.0" r="5.4"/><circle cx="676.6" cy="464.6" r="5.4"/><circle cx="700.3" cy="462.9" r="5.4"/><circle cx="715.4" cy="469.5" r="5.4"/><circle cx="735.6" cy="466.2" r="5.4"/><circle cx="687.9" cy="477.8" r="5.4"/><circle cx="725.0" cy="479.5" r="5.4"/><circle cx="675.4" cy="484.4" r="5.4"/><circle cx="701.8" cy="486.4" r="5.4"/><circle cx="640.5" cy="489.7" r="5.4"/><circle cx="661.4" cy="492.2" r="5.4"/><circle cx="714.7" cy="494.4" r="5.4"/><circle cx="732.1" cy="494.5" r="5.4"/><circle cx="626.9" cy="503.5" r="5.4"/><circle cx="685.7" cy="499.7" r="5.4"/><circle cx="671.6" cy="506.5" r="5.4"/><circle cx="701.6" cy="506.5" r="5.4"/><circle cx="721.2" cy="510.4" r="5.4"/><circle cx="640.3" cy="515.4" r="5.4"/><circle cx="657.7" cy="512.8" r="5.4"/><circle cx="705.9" cy="519.7" r="5.4"/><circle cx="600.1" cy="521.4" r="5.4"/><circle cx="619.5" cy="524.7" r="5.4"/><circle cx="679.4" cy="521.9" r="5.4"/><circle cx="664.0" cy="529.0" r="5.4"/><circle cx="696.5" cy="528.8" r="5.4"/><circle cx="716.8" cy="528.7" r="5.4"/><circle cx="633.9" cy="534.5" r="5.4"/><circle cx="649.4" cy="532.3" r="5.4"/><circle cx="682.1" cy="538.8" r="5.4"/><circle cx="700.4" cy="543.6" r="5.4"/><circle cx="569.3" cy="541.2" r="5.4"/><circle cx="591.6" cy="539.6" r="5.4"/><circle cx="611.0" cy="545.7" r="5.4"/><circle cx="629.4" cy="550.0" r="5.4"/><circle cx="663.0" cy="545.2" r="5.4"/><circle cx="646.5" cy="551.1" r="5.4"/><circle cx="536.3" cy="552.0" r="5.4"/><circle cx="556.2" cy="554.1" r="5.4"/><circle cx="582.6" cy="556.1" r="5.4"/><circle cx="684.1" cy="554.7" r="5.4"/><circle cx="378.0" cy="561.7" r="5.4"/><circle cx="395.6" cy="564.6" r="5.4"/><circle cx="413.4" cy="561.6" r="5.4"/><circle cx="447.6" cy="559.9" r="5.4"/><circle cx="433.8" cy="568.7" r="5.4"/><circle cx="469.1" cy="566.5" r="5.4"/><circle cx="490.1" cy="564.9" r="5.4"/><circle cx="513.8" cy="560.9" r="5.4"/><circle cx="387.6" cy="579.1" r="5.4"/><circle cx="403.7" cy="578.6" r="5.4"/><circle cx="419.9" cy="579.5" r="5.4"/><circle cx="453.8" cy="574.5" r="5.4"/><circle cx="479.4" cy="579.5" r="5.4"/><circle cx="499.7" cy="579.8" r="5.4"/><circle cx="517.4" cy="578.8" r="5.4"/><circle cx="531.2" cy="587.4" r="5.4"/><circle cx="408.6" cy="594.0" r="5.4"/><circle cx="425.4" cy="592.4" r="5.4"/><circle cx="442.1" cy="588.7" r="5.4"/><circle cx="465.3" cy="589.4" r="5.4"/><circle cx="487.6" cy="593.5" r="5.4"/><circle cx="510.0" cy="592.7" r="5.4"/><circle cx="524.6" cy="602.7" r="5.4"/><circle cx="424.0" cy="611.3" r="5.4"/><circle cx="437.5" cy="605.6" r="5.4"/><circle cx="452.7" cy="602.0" r="5.4"/><circle cx="475.4" cy="606.8" r="5.4"/><circle cx="498.1" cy="606.8" r="5.4"/><circle cx="463.0" cy="613.9" r="5.4"/><circle cx="449.5" cy="621.7" r="5.4"/><circle cx="488.3" cy="618.9" r="5.4"/><circle cx="513.1" cy="617.6" r="5.4"/><circle cx="472.7" cy="626.2" r="5.4"/><circle cx="502.7" cy="628.3" r="5.4"/><circle cx="527.1" cy="626.2" r="5.4"/><circle cx="489.1" cy="636.6" r="5.4"/><circle cx="516.8" cy="637.4" r="5.4"/><circle cx="537.3" cy="569.5" r="5.4"/><circle cx="567.3" cy="572.0" r="5.4"/><circle cx="585.7" cy="575.3" r="5.4"/><circle cx="602.2" cy="564.2" r="5.4"/><circle cx="617.5" cy="564.2" r="5.4"/><circle cx="632.7" cy="567.5" r="5.4"/><circle cx="650.9" cy="567.5" r="5.4"/><circle cx="669.6" cy="561.6" r="5.4"/><circle cx="697.8" cy="562.4" r="5.4"/><circle cx="680.1" cy="575.3" r="5.4"/><circle cx="550.1" cy="581.1" r="5.4"/><circle cx="601.7" cy="580.6" r="5.4"/><circle cx="618.8" cy="581.6" r="5.4"/><circle cx="633.7" cy="586.9" r="5.4"/><circle cx="648.6" cy="586.1" r="5.4"/><circle cx="665.2" cy="580.3" r="5.4"/><circle cx="564.8" cy="587.7" r="5.4"/><circle cx="582.5" cy="591.9" r="5.4"/><circle cx="545.6" cy="597.0" r="5.4"/><circle cx="598.1" cy="599.7" r="5.4"/><circle cx="614.8" cy="601.0" r="5.4"/><circle cx="628.1" cy="603.0" r="5.4"/><circle cx="642.6" cy="604.3" r="5.4"/><circle cx="660.5" cy="598.0" r="5.4"/><circle cx="564.1" cy="604.0" r="5.4"/><circle cx="578.1" cy="611.4" r="5.4"/><circle cx="539.1" cy="615.6" r="5.4"/><circle cx="591.3" cy="615.9" r="5.4"/><circle cx="607.4" cy="616.4" r="5.4"/><circle cx="622.4" cy="619.2" r="5.4"/><circle cx="553.9" cy="621.2" r="5.4"/><circle cx="567.6" cy="625.8" r="5.4"/><circle cx="580.2" cy="632.0" r="5.4"/><circle cx="599.6" cy="631.3" r="5.4"/><circle cx="539.1" cy="634.6" r="5.4"/><circle cx="555.2" cy="638.8" r="5.4"/><circle cx="533.8" cy="434.5" r="9.3" class="ctr"/></g><g class="lk"><line x1="1006.8" y1="436.4" x2="985.4" y2="233.5"/><line x1="1006.8" y1="436.4" x2="953.6" y2="239.6"/><line x1="1006.8" y1="436.4" x2="974.3" y2="247.0"/><line x1="1006.8" y1="436.4" x2="916.1" y2="253.7"/><line x1="1006.8" y1="436.4" x2="934.4" y2="255.5"/><line x1="1006.8" y1="436.4" x2="954.6" y2="256.8"/><line x1="1006.8" y1="436.4" x2="891.3" y2="273.2"/><line x1="1006.8" y1="436.4" x2="910.0" y2="270.6"/><line x1="1006.8" y1="436.4" x2="936.7" y2="276.5"/><line x1="1006.8" y1="436.4" x2="952.6" y2="279.0"/><line x1="1006.8" y1="436.4" x2="967.8" y2="270.2"/><line x1="1006.8" y1="436.4" x2="983.0" y2="274.5"/><line x1="1006.8" y1="436.4" x2="861.8" y2="291.9"/><line x1="1006.8" y1="436.4" x2="879.7" y2="289.3"/><line x1="1006.8" y1="436.4" x2="898.6" y2="294.6"/><line x1="1006.8" y1="436.4" x2="916.0" y2="294.7"/><line x1="1006.8" y1="436.4" x2="929.6" y2="289.3"/><line x1="1006.8" y1="436.4" x2="947.8" y2="298.5"/><line x1="1006.8" y1="436.4" x2="965.7" y2="291.1"/><line x1="1006.8" y1="436.4" x2="980.4" y2="291.7"/><line x1="1006.8" y1="436.4" x2="850.1" y2="315.8"/><line x1="1006.8" y1="436.4" x2="865.6" y2="310.3"/><line x1="1006.8" y1="436.4" x2="887.5" y2="310.5"/><line x1="1006.8" y1="436.4" x2="904.2" y2="309.1"/><line x1="1006.8" y1="436.4" x2="926.4" y2="310.5"/><line x1="1006.8" y1="436.4" x2="942.3" y2="312.1"/><line x1="1006.8" y1="436.4" x2="963.2" y2="306.0"/><line x1="1006.8" y1="436.4" x2="834.8" y2="325.7"/><line x1="1006.8" y1="436.4" x2="890.0" y2="325.0"/><line x1="1006.8" y1="436.4" x2="910.0" y2="326.9"/><line x1="1006.8" y1="436.4" x2="924.7" y2="325.9"/><line x1="1006.8" y1="436.4" x2="878.2" y2="332.0"/><line x1="1006.8" y1="436.4" x2="863.3" y2="335.3"/><line x1="1006.8" y1="436.4" x2="1001.6" y2="239.2"/><line x1="1006.8" y1="436.4" x2="1027.2" y2="233.8"/><line x1="1006.8" y1="436.4" x2="1016.5" y2="248.4"/><line x1="1006.8" y1="436.4" x2="1042.3" y2="245.9"/><line x1="1006.8" y1="436.4" x2="1063.3" y2="243.4"/><line x1="1006.8" y1="436.4" x2="991.6" y2="263.3"/><line x1="1006.8" y1="436.4" x2="1006.7" y2="269.7"/><line x1="1006.8" y1="436.4" x2="1021.3" y2="273.5"/><line x1="1006.8" y1="436.4" x2="1032.5" y2="265.4"/><line x1="1006.8" y1="436.4" x2="1054.6" y2="261.1"/><line x1="1006.8" y1="436.4" x2="1079.7" y2="258.5"/><line x1="1006.8" y1="436.4" x2="1096.8" y2="253.8"/><line x1="1006.8" y1="436.4" x2="1046.1" y2="276.5"/><line x1="1006.8" y1="436.4" x2="1065.7" y2="275.0"/><line x1="1006.8" y1="436.4" x2="1107.6" y2="268.2"/><line x1="1006.8" y1="436.4" x2="1130.1" y2="274.5"/><line x1="1006.8" y1="436.4" x2="1002.9" y2="287.6"/><line x1="1006.8" y1="436.4" x2="1029.4" y2="290.6"/><line x1="1006.8" y1="436.4" x2="1074.9" y2="286.4"/><line x1="1006.8" y1="436.4" x2="1090.3" y2="284.0"/><line x1="1006.8" y1="436.4" x2="1118.5" y2="285.1"/><line x1="1006.8" y1="436.4" x2="993.3" y2="299.7"/><line x1="1006.8" y1="436.4" x2="1016.0" y2="296.7"/><line x1="1006.8" y1="436.4" x2="1038.7" y2="303.0"/><line x1="1006.8" y1="436.4" x2="1050.4" y2="294.2"/><line x1="1006.8" y1="436.4" x2="1061.7" y2="302.2"/><line x1="1006.8" y1="436.4" x2="1075.8" y2="305.2"/><line x1="1006.8" y1="436.4" x2="1098.4" y2="297.2"/><line x1="1006.8" y1="436.4" x2="1140.4" y2="296.5"/><line x1="1006.8" y1="436.4" x2="1158.2" y2="300.8"/><line x1="1006.8" y1="436.4" x2="1116.2" y2="303.8"/><line x1="1006.8" y1="436.4" x2="1093.6" y2="313.3"/><line x1="1006.8" y1="436.4" x2="1079.2" y2="319.1"/><line x1="1006.8" y1="436.4" x2="1118.5" y2="318.4"/><line x1="1006.8" y1="436.4" x2="1133.7" y2="315.7"/><line x1="1006.8" y1="436.4" x2="1165.2" y2="317.6"/><line x1="1006.8" y1="436.4" x2="1100.6" y2="327.0"/><line x1="1006.8" y1="436.4" x2="1134.4" y2="330.0"/><line x1="1006.8" y1="436.4" x2="1164.9" y2="332.5"/><line x1="1006.8" y1="436.4" x2="1183.2" y2="336.6"/><line x1="1006.8" y1="436.4" x2="839.1" y2="342.5"/><line x1="1006.8" y1="436.4" x2="903.2" y2="342.5"/><line x1="1006.8" y1="436.4" x2="986.0" y2="341.4"/><line x1="1006.8" y1="436.4" x2="867.8" y2="349.4"/><line x1="1006.8" y1="436.4" x2="889.6" y2="349.1"/><line x1="1006.8" y1="436.4" x2="968.0" y2="346.1"/><line x1="1006.8" y1="436.4" x2="821.9" y2="354.7"/><line x1="1006.8" y1="436.4" x2="854.2" y2="357.7"/><line x1="1006.8" y1="436.4" x2="978.1" y2="354.1"/><line x1="1006.8" y1="436.4" x2="953.1" y2="356.4"/><line x1="1006.8" y1="436.4" x2="883.3" y2="362.3"/><line x1="1006.8" y1="436.4" x2="941.5" y2="363.5"/><line x1="1006.8" y1="436.4" x2="964.0" y2="362.2"/><line x1="1006.8" y1="436.4" x2="838.6" y2="367.1"/><line x1="1006.8" y1="436.4" x2="872.4" y2="371.4"/><line x1="1006.8" y1="436.4" x2="821.6" y2="376.3"/><line x1="1006.8" y1="436.4" x2="854.7" y2="375.9"/><line x1="1006.8" y1="436.4" x2="932.7" y2="375.9"/><line x1="1006.8" y1="436.4" x2="948.6" y2="374.6"/><line x1="1006.8" y1="436.4" x2="916.3" y2="379.4"/><line x1="1006.8" y1="436.4" x2="878.4" y2="386.4"/><line x1="1006.8" y1="436.4" x2="936.0" y2="389.2"/><line x1="1006.8" y1="436.4" x2="841.8" y2="387.3"/><line x1="1006.8" y1="436.4" x2="808.2" y2="389.5"/><line x1="1006.8" y1="436.4" x2="865.5" y2="395.0"/><line x1="1006.8" y1="436.4" x2="920.1" y2="394.1"/><line x1="1006.8" y1="436.4" x2="820.4" y2="401.6"/><line x1="1006.8" y1="436.4" x2="847.4" y2="400.4"/><line x1="1006.8" y1="436.4" x2="925.4" y2="404.6"/><line x1="1006.8" y1="436.4" x2="868.6" y2="409.5"/><line x1="1006.8" y1="436.4" x2="840.9" y2="413.2"/><line x1="1006.8" y1="436.4" x2="911.7" y2="412.4"/><line x1="1006.8" y1="436.4" x2="809.8" y2="416.2"/><line x1="1006.8" y1="436.4" x2="923.8" y2="419.8"/><line x1="1006.8" y1="436.4" x2="857.5" y2="421.1"/><line x1="1006.8" y1="436.4" x2="833.3" y2="426.4"/><line x1="1006.8" y1="436.4" x2="910.8" y2="428.4"/><line x1="1006.8" y1="436.4" x2="869.4" y2="431.1"/><line x1="1006.8" y1="436.4" x2="802.7" y2="433.1"/><line x1="1006.8" y1="436.4" x2="842.3" y2="438.0"/><line x1="1006.8" y1="436.4" x2="921.1" y2="437.5"/><line x1="1006.8" y1="436.4" x2="859.8" y2="442.2"/><line x1="1006.8" y1="436.4" x2="814.8" y2="444.3"/><line x1="1006.8" y1="436.4" x2="910.3" y2="445.0"/><line x1="1006.8" y1="436.4" x2="1002.4" y2="340.3"/><line x1="1006.8" y1="436.4" x2="1019.0" y2="340.0"/><line x1="1006.8" y1="436.4" x2="1034.2" y2="343.3"/><line x1="1006.8" y1="436.4" x2="1049.3" y2="345.6"/><line x1="1006.8" y1="436.4" x2="994.1" y2="352.2"/><line x1="1006.8" y1="436.4" x2="1011.5" y2="352.2"/><line x1="1006.8" y1="436.4" x2="1028.6" y2="353.9"/><line x1="1006.8" y1="436.4" x2="1045.8" y2="360.2"/><line x1="1006.8" y1="436.4" x2="1058.7" y2="358.0"/><line x1="1006.8" y1="436.4" x2="1071.1" y2="362.2"/><line x1="1006.8" y1="436.4" x2="1065.7" y2="373.8"/><line x1="1006.8" y1="436.4" x2="1081.1" y2="374.4"/><line x1="1006.8" y1="436.4" x2="1077.2" y2="387.5"/><line x1="1006.8" y1="436.4" x2="1091.8" y2="388.7"/><line x1="1006.8" y1="436.4" x2="1086.0" y2="401.1"/><line x1="1006.8" y1="436.4" x2="1098.6" y2="405.9"/><line x1="1006.8" y1="436.4" x2="1090.3" y2="417.8"/><line x1="1006.8" y1="436.4" x2="1100.9" y2="426.1"/><line x1="1006.8" y1="436.4" x2="1092.0" y2="438.4"/><line x1="1006.8" y1="436.4" x2="1103.9" y2="441.7"/><line x1="1006.8" y1="436.4" x2="1105.9" y2="342.0"/><line x1="1006.8" y1="436.4" x2="1120.5" y2="343.3"/><line x1="1006.8" y1="436.4" x2="1141.1" y2="342.8"/><line x1="1006.8" y1="436.4" x2="1154.8" y2="350.1"/><line x1="1006.8" y1="436.4" x2="1181.9" y2="355.0"/><line x1="1006.8" y1="436.4" x2="1122.8" y2="359.0"/><line x1="1006.8" y1="436.4" x2="1136.3" y2="363.5"/><line x1="1006.8" y1="436.4" x2="1155.9" y2="366.8"/><line x1="1006.8" y1="436.4" x2="1175.5" y2="372.2"/><line x1="1006.8" y1="436.4" x2="1195.5" y2="371.1"/><line x1="1006.8" y1="436.4" x2="1132.9" y2="379.4"/><line x1="1006.8" y1="436.4" x2="1146.5" y2="384.6"/><line x1="1006.8" y1="436.4" x2="1167.7" y2="385.0"/><line x1="1006.8" y1="436.4" x2="1191.4" y2="390.3"/><line x1="1006.8" y1="436.4" x2="1146.8" y2="400.1"/><line x1="1006.8" y1="436.4" x2="1165.5" y2="400.3"/><line x1="1006.8" y1="436.4" x2="1177.5" y2="409.2"/><line x1="1006.8" y1="436.4" x2="1120.1" y2="414.0"/><line x1="1006.8" y1="436.4" x2="1151.0" y2="414.9"/><line x1="1006.8" y1="436.4" x2="1169.7" y2="422.3"/><line x1="1006.8" y1="436.4" x2="1146.2" y2="430.7"/><line x1="1006.8" y1="436.4" x2="1168.7" y2="436.3"/><line x1="1006.8" y1="436.4" x2="1192.6" y2="432.8"/><line x1="1006.8" y1="436.4" x2="1152.3" y2="445.5"/><line x1="1006.8" y1="436.4" x2="1177.1" y2="446.3"/><line x1="1006.8" y1="436.4" x2="1206.0" y2="401.8"/><line x1="1006.8" y1="436.4" x2="1200.9" y2="418.6"/><line x1="1006.8" y1="436.4" x2="1208.8" y2="443.2"/><line x1="1006.8" y1="436.4" x2="836.0" y2="452.6"/><line x1="1006.8" y1="436.4" x2="855.9" y2="457.1"/><line x1="1006.8" y1="436.4" x2="870.8" y2="459.1"/><line x1="1006.8" y1="436.4" x2="922.1" y2="454.6"/><line x1="1006.8" y1="436.4" x2="805.7" y2="465.7"/><line x1="1006.8" y1="436.4" x2="822.4" y2="465.6"/><line x1="1006.8" y1="436.4" x2="843.3" y2="470.0"/><line x1="1006.8" y1="436.4" x2="864.5" y2="474.5"/><line x1="1006.8" y1="436.4" x2="912.0" y2="464.1"/><line x1="1006.8" y1="436.4" x2="927.7" y2="469.9"/><line x1="1006.8" y1="436.4" x2="817.4" y2="484.9"/><line x1="1006.8" y1="436.4" x2="840.1" y2="486.9"/><line x1="1006.8" y1="436.4" x2="853.4" y2="490.6"/><line x1="1006.8" y1="436.4" x2="875.7" y2="484.4"/><line x1="1006.8" y1="436.4" x2="920.3" y2="481.5"/><line x1="1006.8" y1="436.4" x2="933.5" y2="485.3"/><line x1="1006.8" y1="436.4" x2="931.0" y2="497.7"/><line x1="1006.8" y1="436.4" x2="946.4" y2="496.5"/><line x1="1006.8" y1="436.4" x2="815.3" y2="503.8"/><line x1="1006.8" y1="436.4" x2="829.9" y2="509.6"/><line x1="1006.8" y1="436.4" x2="852.0" y2="506.3"/><line x1="1006.8" y1="436.4" x2="872.1" y2="499.8"/><line x1="1006.8" y1="436.4" x2="887.3" y2="503.6"/><line x1="1006.8" y1="436.4" x2="943.6" y2="510.1"/><line x1="1006.8" y1="436.4" x2="957.7" y2="509.3"/><line x1="1006.8" y1="436.4" x2="971.8" y2="516.7"/><line x1="1006.8" y1="436.4" x2="958.9" y2="522.2"/><line x1="1006.8" y1="436.4" x2="976.6" y2="529.5"/><line x1="1006.8" y1="436.4" x2="829.9" y2="529.5"/><line x1="1006.8" y1="436.4" x2="849.2" y2="524.5"/><line x1="1006.8" y1="436.4" x2="866.5" y2="522.2"/><line x1="1006.8" y1="436.4" x2="883.8" y2="518.4"/><line x1="1006.8" y1="436.4" x2="898.1" y2="523.9"/><line x1="1006.8" y1="436.4" x2="846.2" y2="544.6"/><line x1="1006.8" y1="436.4" x2="867.3" y2="538.8"/><line x1="1006.8" y1="436.4" x2="880.9" y2="540.7"/><line x1="1006.8" y1="436.4" x2="901.7" y2="539.9"/><line x1="1006.8" y1="436.4" x2="915.6" y2="538.3"/><line x1="1006.8" y1="436.4" x2="889.3" y2="552.9"/><line x1="1006.8" y1="436.4" x2="919.9" y2="554.1"/><line x1="1006.8" y1="436.4" x2="938.5" y2="555.0"/><line x1="1006.8" y1="436.4" x2="1088.0" y2="457.9"/><line x1="1006.8" y1="436.4" x2="1100.6" y2="455.8"/><line x1="1006.8" y1="436.4" x2="1142.4" y2="458.8"/><line x1="1006.8" y1="436.4" x2="1167.2" y2="460.7"/><line x1="1006.8" y1="436.4" x2="1085.9" y2="474.5"/><line x1="1006.8" y1="436.4" x2="1098.1" y2="470.9"/><line x1="1006.8" y1="436.4" x2="1149.8" y2="472.1"/><line x1="1006.8" y1="436.4" x2="1182.5" y2="471.2"/><line x1="1006.8" y1="436.4" x2="1167.3" y2="478.6"/><line x1="1006.8" y1="436.4" x2="1138.6" y2="482.3"/><line x1="1006.8" y1="436.4" x2="1076.1" y2="488.2"/><line x1="1006.8" y1="436.4" x2="1089.0" y2="488.6"/><line x1="1006.8" y1="436.4" x2="1160.6" y2="493.6"/><line x1="1006.8" y1="436.4" x2="1187.4" y2="494.7"/><line x1="1006.8" y1="436.4" x2="1140.4" y2="497.0"/><line x1="1006.8" y1="436.4" x2="1062.7" y2="500.7"/><line x1="1006.8" y1="436.4" x2="1076.4" y2="502.7"/><line x1="1006.8" y1="436.4" x2="1125.1" y2="504.6"/><line x1="1006.8" y1="436.4" x2="1163.1" y2="508.9"/><line x1="1006.8" y1="436.4" x2="1050.9" y2="513.9"/><line x1="1006.8" y1="436.4" x2="1063.8" y2="514.7"/><line x1="1006.8" y1="436.4" x2="1032.2" y2="516.7"/><line x1="1006.8" y1="436.4" x2="1133.6" y2="517.1"/><line x1="1006.8" y1="436.4" x2="1150.1" y2="517.1"/><line x1="1006.8" y1="436.4" x2="988.3" y2="519.2"/><line x1="1006.8" y1="436.4" x2="1005.2" y2="521.4"/><line x1="1006.8" y1="436.4" x2="1020.4" y2="525.5"/><line x1="1006.8" y1="436.4" x2="1043.8" y2="524.5"/><line x1="1006.8" y1="436.4" x2="1180.1" y2="522.4"/><line x1="1006.8" y1="436.4" x2="1105.4" y2="530.0"/><line x1="1006.8" y1="436.4" x2="1120.5" y2="526.8"/><line x1="1006.8" y1="436.4" x2="992.9" y2="532.1"/><line x1="1006.8" y1="436.4" x2="1008.7" y2="534.5"/><line x1="1006.8" y1="436.4" x2="1031.9" y2="534.9"/><line x1="1006.8" y1="436.4" x2="1145.6" y2="535.2"/><line x1="1006.8" y1="436.4" x2="1164.2" y2="534.4"/><line x1="1006.8" y1="436.4" x2="1131.4" y2="541.3"/><line x1="1006.8" y1="436.4" x2="1177.0" y2="544.6"/><line x1="1006.8" y1="436.4" x2="1104.2" y2="545.2"/><line x1="1006.8" y1="436.4" x2="1088.0" y2="548.9"/><line x1="1006.8" y1="436.4" x2="1133.5" y2="555.2"/><line x1="1006.8" y1="436.4" x2="1156.4" y2="556.2"/><line x1="1006.8" y1="436.4" x2="1198.1" y2="458.7"/><line x1="1006.8" y1="436.4" x2="1200.4" y2="479.9"/><line x1="1006.8" y1="436.4" x2="1194.8" y2="510.1"/><line x1="1006.8" y1="436.4" x2="846.7" y2="562.6"/><line x1="1006.8" y1="436.4" x2="864.8" y2="561.2"/><line x1="1006.8" y1="436.4" x2="892.3" y2="567.0"/><line x1="1006.8" y1="436.4" x2="907.5" y2="567.4"/><line x1="1006.8" y1="436.4" x2="931.7" y2="567.0"/><line x1="1006.8" y1="436.4" x2="950.9" y2="570.9"/><line x1="1006.8" y1="436.4" x2="966.6" y2="569.9"/><line x1="1006.8" y1="436.4" x2="871.1" y2="579.1"/><line x1="1006.8" y1="436.4" x2="915.5" y2="580.3"/><line x1="1006.8" y1="436.4" x2="934.7" y2="583.6"/><line x1="1006.8" y1="436.4" x2="977.1" y2="581.5"/><line x1="1006.8" y1="436.4" x2="880.5" y2="596.0"/><line x1="1006.8" y1="436.4" x2="895.6" y2="591.9"/><line x1="1006.8" y1="436.4" x2="918.0" y2="598.2"/><line x1="1006.8" y1="436.4" x2="944.6" y2="596.5"/><line x1="1006.8" y1="436.4" x2="957.4" y2="591.1"/><line x1="1006.8" y1="436.4" x2="971.6" y2="598.2"/><line x1="1006.8" y1="436.4" x2="907.0" y2="612.3"/><line x1="1006.8" y1="436.4" x2="929.9" y2="612.9"/><line x1="1006.8" y1="436.4" x2="982.9" y2="608.9"/><line x1="1006.8" y1="436.4" x2="955.1" y2="618.4"/><line x1="1006.8" y1="436.4" x2="940.3" y2="627.8"/><line x1="1006.8" y1="436.4" x2="968.3" y2="629.6"/><line x1="1006.8" y1="436.4" x2="986.0" y2="637.9"/><line x1="1006.8" y1="436.4" x2="1069.1" y2="558.8"/><line x1="1006.8" y1="436.4" x2="1085.4" y2="562.9"/><line x1="1006.8" y1="436.4" x2="1106.6" y2="564.9"/><line x1="1006.8" y1="436.4" x2="1118.8" y2="557.9"/><line x1="1006.8" y1="436.4" x2="1153.9" y2="575.0"/><line x1="1006.8" y1="436.4" x2="1137.0" y2="583.3"/><line x1="1006.8" y1="436.4" x2="1120.1" y2="586.4"/><line x1="1006.8" y1="436.4" x2="1101.4" y2="579.0"/><line x1="1006.8" y1="436.4" x2="1083.9" y2="581.6"/><line x1="1006.8" y1="436.4" x2="1065.8" y2="572.8"/><line x1="1006.8" y1="436.4" x2="1051.2" y2="572.8"/><line x1="1006.8" y1="436.4" x2="1037.5" y2="578.6"/><line x1="1006.8" y1="436.4" x2="1021.4" y2="573.7"/><line x1="1006.8" y1="436.4" x2="989.5" y2="573.2"/><line x1="1006.8" y1="436.4" x2="1001.7" y2="581.5"/><line x1="1006.8" y1="436.4" x2="1016.8" y2="589.1"/><line x1="1006.8" y1="436.4" x2="1051.2" y2="593.0"/><line x1="1006.8" y1="436.4" x2="1066.8" y2="595.2"/><line x1="1006.8" y1="436.4" x2="1083.4" y2="598.8"/><line x1="1006.8" y1="436.4" x2="1100.3" y2="605.1"/><line x1="1006.8" y1="436.4" x2="1117.8" y2="605.5"/><line x1="1006.8" y1="436.4" x2="993.3" y2="598.5"/><line x1="1006.8" y1="436.4" x2="1028.4" y2="598.8"/><line x1="1006.8" y1="436.4" x2="1007.7" y2="606.0"/><line x1="1006.8" y1="436.4" x2="1042.3" y2="605.1"/><line x1="1006.8" y1="436.4" x2="1064.5" y2="618.1"/><line x1="1006.8" y1="436.4" x2="1083.9" y2="620.0"/><line x1="1006.8" y1="436.4" x2="1021.8" y2="621.7"/><line x1="1006.8" y1="436.4" x2="999.1" y2="627.0"/><line x1="1006.8" y1="436.4" x2="1037.5" y2="628.8"/><line x1="1006.8" y1="436.4" x2="1054.9" y2="633.0"/><line x1="1006.8" y1="436.4" x2="1016.1" y2="637.9"/></g><g class="gn"><circle cx="985.4" cy="233.5" r="5.4"/><circle cx="953.6" cy="239.6" r="5.4"/><circle cx="974.3" cy="247.0" r="5.4"/><circle cx="916.1" cy="253.7" r="5.4"/><circle cx="934.4" cy="255.5" r="5.4"/><circle cx="954.6" cy="256.8" r="5.4"/><circle cx="891.3" cy="273.2" r="5.4"/><circle cx="910.0" cy="270.6" r="5.4"/><circle cx="936.7" cy="276.5" r="5.4"/><circle cx="952.6" cy="279.0" r="5.4"/><circle cx="967.8" cy="270.2" r="5.4"/><circle cx="983.0" cy="274.5" r="5.4"/><circle cx="861.8" cy="291.9" r="5.4"/><circle cx="879.7" cy="289.3" r="5.4"/><circle cx="898.6" cy="294.6" r="5.4"/><circle cx="916.0" cy="294.7" r="5.4"/><circle cx="929.6" cy="289.3" r="5.4"/><circle cx="947.8" cy="298.5" r="5.4"/><circle cx="965.7" cy="291.1" r="5.4"/><circle cx="980.4" cy="291.7" r="5.4"/><circle cx="850.1" cy="315.8" r="5.4"/><circle cx="865.6" cy="310.3" r="5.4"/><circle cx="887.5" cy="310.5" r="5.4"/><circle cx="904.2" cy="309.1" r="5.4"/><circle cx="926.4" cy="310.5" r="5.4"/><circle cx="942.3" cy="312.1" r="5.4"/><circle cx="963.2" cy="306.0" r="5.4"/><circle cx="834.8" cy="325.7" r="5.4"/><circle cx="890.0" cy="325.0" r="5.4"/><circle cx="910.0" cy="326.9" r="5.4"/><circle cx="924.7" cy="325.9" r="5.4"/><circle cx="878.2" cy="332.0" r="5.4"/><circle cx="863.3" cy="335.3" r="5.4"/><circle cx="1001.6" cy="239.2" r="5.4"/><circle cx="1027.2" cy="233.8" r="5.4"/><circle cx="1016.5" cy="248.4" r="5.4"/><circle cx="1042.3" cy="245.9" r="5.4"/><circle cx="1063.3" cy="243.4" r="5.4"/><circle cx="991.6" cy="263.3" r="5.4"/><circle cx="1006.7" cy="269.7" r="5.4"/><circle cx="1021.3" cy="273.5" r="5.4"/><circle cx="1032.5" cy="265.4" r="5.4"/><circle cx="1054.6" cy="261.1" r="5.4"/><circle cx="1079.7" cy="258.5" r="5.4"/><circle cx="1096.8" cy="253.8" r="5.4"/><circle cx="1046.1" cy="276.5" r="5.4"/><circle cx="1065.7" cy="275.0" r="5.4"/><circle cx="1107.6" cy="268.2" r="5.4"/><circle cx="1130.1" cy="274.5" r="5.4"/><circle cx="1002.9" cy="287.6" r="5.4"/><circle cx="1029.4" cy="290.6" r="5.4"/><circle cx="1074.9" cy="286.4" r="5.4"/><circle cx="1090.3" cy="284.0" r="5.4"/><circle cx="1118.5" cy="285.1" r="5.4"/><circle cx="993.3" cy="299.7" r="5.4"/><circle cx="1016.0" cy="296.7" r="5.4"/><circle cx="1038.7" cy="303.0" r="5.4"/><circle cx="1050.4" cy="294.2" r="5.4"/><circle cx="1061.7" cy="302.2" r="5.4"/><circle cx="1075.8" cy="305.2" r="5.4"/><circle cx="1098.4" cy="297.2" r="5.4"/><circle cx="1140.4" cy="296.5" r="5.4"/><circle cx="1158.2" cy="300.8" r="5.4"/><circle cx="1116.2" cy="303.8" r="5.4"/><circle cx="1093.6" cy="313.3" r="5.4"/><circle cx="1079.2" cy="319.1" r="5.4"/><circle cx="1118.5" cy="318.4" r="5.4"/><circle cx="1133.7" cy="315.7" r="5.4"/><circle cx="1165.2" cy="317.6" r="5.4"/><circle cx="1100.6" cy="327.0" r="5.4"/><circle cx="1134.4" cy="330.0" r="5.4"/><circle cx="1164.9" cy="332.5" r="5.4"/><circle cx="1183.2" cy="336.6" r="5.4"/><circle cx="839.1" cy="342.5" r="5.4"/><circle cx="903.2" cy="342.5" r="5.4"/><circle cx="986.0" cy="341.4" r="5.4" class="in"/><circle cx="867.8" cy="349.4" r="5.4"/><circle cx="889.6" cy="349.1" r="5.4"/><circle cx="968.0" cy="346.1" r="5.4" class="in"/><circle cx="821.9" cy="354.7" r="5.4"/><circle cx="854.2" cy="357.7" r="5.4"/><circle cx="978.1" cy="354.1" r="5.4" class="in"/><circle cx="953.1" cy="356.4" r="5.4" class="in"/><circle cx="883.3" cy="362.3" r="5.4"/><circle cx="941.5" cy="363.5" r="5.4" class="in"/><circle cx="964.0" cy="362.2" r="5.4" class="in"/><circle cx="838.6" cy="367.1" r="5.4"/><circle cx="872.4" cy="371.4" r="5.4"/><circle cx="821.6" cy="376.3" r="5.4"/><circle cx="854.7" cy="375.9" r="5.4"/><circle cx="932.7" cy="375.9" r="5.4" class="in"/><circle cx="948.6" cy="374.6" r="5.4" class="in"/><circle cx="916.3" cy="379.4" r="5.4" class="in"/><circle cx="878.4" cy="386.4" r="5.4"/><circle cx="936.0" cy="389.2" r="5.4" class="in"/><circle cx="841.8" cy="387.3" r="5.4"/><circle cx="808.2" cy="389.5" r="5.4"/><circle cx="865.5" cy="395.0" r="5.4"/><circle cx="920.1" cy="394.1" r="5.4" class="in"/><circle cx="820.4" cy="401.6" r="5.4"/><circle cx="847.4" cy="400.4" r="5.4"/><circle cx="925.4" cy="404.6" r="5.4" class="in"/><circle cx="868.6" cy="409.5" r="5.4"/><circle cx="840.9" cy="413.2" r="5.4"/><circle cx="911.7" cy="412.4" r="5.4" class="in"/><circle cx="809.8" cy="416.2" r="5.4"/><circle cx="923.8" cy="419.8" r="5.4" class="in"/><circle cx="857.5" cy="421.1" r="5.4"/><circle cx="833.3" cy="426.4" r="5.4"/><circle cx="910.8" cy="428.4" r="5.4" class="in"/><circle cx="869.4" cy="431.1" r="5.4"/><circle cx="802.7" cy="433.1" r="5.4"/><circle cx="842.3" cy="438.0" r="5.4"/><circle cx="921.1" cy="437.5" r="5.4" class="in"/><circle cx="859.8" cy="442.2" r="5.4"/><circle cx="814.8" cy="444.3" r="5.4"/><circle cx="910.3" cy="445.0" r="5.4" class="in"/><circle cx="1002.4" cy="340.3" r="5.4" class="in"/><circle cx="1019.0" cy="340.0" r="5.4" class="in"/><circle cx="1034.2" cy="343.3" r="5.4" class="in"/><circle cx="1049.3" cy="345.6" r="5.4" class="in"/><circle cx="994.1" cy="352.2" r="5.4" class="in"/><circle cx="1011.5" cy="352.2" r="5.4" class="in"/><circle cx="1028.6" cy="353.9" r="5.4" class="in"/><circle cx="1045.8" cy="360.2" r="5.4" class="in"/><circle cx="1058.7" cy="358.0" r="5.4" class="in"/><circle cx="1071.1" cy="362.2" r="5.4" class="in"/><circle cx="1065.7" cy="373.8" r="5.4" class="in"/><circle cx="1081.1" cy="374.4" r="5.4" class="in"/><circle cx="1077.2" cy="387.5" r="5.4" class="in"/><circle cx="1091.8" cy="388.7" r="5.4" class="in"/><circle cx="1086.0" cy="401.1" r="5.4" class="in"/><circle cx="1098.6" cy="405.9" r="5.4" class="in"/><circle cx="1090.3" cy="417.8" r="5.4" class="in"/><circle cx="1100.9" cy="426.1" r="5.4" class="in"/><circle cx="1092.0" cy="438.4" r="5.4" class="in"/><circle cx="1103.9" cy="441.7" r="5.4" class="in"/><circle cx="1105.9" cy="342.0" r="5.4"/><circle cx="1120.5" cy="343.3" r="5.4"/><circle cx="1141.1" cy="342.8" r="5.4"/><circle cx="1154.8" cy="350.1" r="5.4"/><circle cx="1181.9" cy="355.0" r="5.4"/><circle cx="1122.8" cy="359.0" r="5.4"/><circle cx="1136.3" cy="363.5" r="5.4"/><circle cx="1155.9" cy="366.8" r="5.4"/><circle cx="1175.5" cy="372.2" r="5.4"/><circle cx="1195.5" cy="371.1" r="5.4"/><circle cx="1132.9" cy="379.4" r="5.4"/><circle cx="1146.5" cy="384.6" r="5.4"/><circle cx="1167.7" cy="385.0" r="5.4"/><circle cx="1191.4" cy="390.3" r="5.4"/><circle cx="1146.8" cy="400.1" r="5.4"/><circle cx="1165.5" cy="400.3" r="5.4"/><circle cx="1177.5" cy="409.2" r="5.4"/><circle cx="1120.1" cy="414.0" r="5.4"/><circle cx="1151.0" cy="414.9" r="5.4"/><circle cx="1169.7" cy="422.3" r="5.4"/><circle cx="1146.2" cy="430.7" r="5.4"/><circle cx="1168.7" cy="436.3" r="5.4"/><circle cx="1192.6" cy="432.8" r="5.4"/><circle cx="1152.3" cy="445.5" r="5.4"/><circle cx="1177.1" cy="446.3" r="5.4"/><circle cx="1206.0" cy="401.8" r="5.4"/><circle cx="1200.9" cy="418.6" r="5.4"/><circle cx="1208.8" cy="443.2" r="5.4"/><circle cx="836.0" cy="452.6" r="5.4"/><circle cx="855.9" cy="457.1" r="5.4"/><circle cx="870.8" cy="459.1" r="5.4"/><circle cx="922.1" cy="454.6" r="5.4" class="in"/><circle cx="805.7" cy="465.7" r="5.4"/><circle cx="822.4" cy="465.6" r="5.4"/><circle cx="843.3" cy="470.0" r="5.4"/><circle cx="864.5" cy="474.5" r="5.4"/><circle cx="912.0" cy="464.1" r="5.4" class="in"/><circle cx="927.7" cy="469.9" r="5.4" class="in"/><circle cx="817.4" cy="484.9" r="5.4"/><circle cx="840.1" cy="486.9" r="5.4"/><circle cx="853.4" cy="490.6" r="5.4"/><circle cx="875.7" cy="484.4" r="5.4"/><circle cx="920.3" cy="481.5" r="5.4" class="in"/><circle cx="933.5" cy="485.3" r="5.4" class="in"/><circle cx="931.0" cy="497.7" r="5.4" class="in"/><circle cx="946.4" cy="496.5" r="5.4" class="in"/><circle cx="815.3" cy="503.8" r="5.4"/><circle cx="829.9" cy="509.6" r="5.4"/><circle cx="852.0" cy="506.3" r="5.4"/><circle cx="872.1" cy="499.8" r="5.4"/><circle cx="887.3" cy="503.6" r="5.4"/><circle cx="943.6" cy="510.1" r="5.4" class="in"/><circle cx="957.7" cy="509.3" r="5.4" class="in"/><circle cx="971.8" cy="516.7" r="5.4" class="in"/><circle cx="958.9" cy="522.2" r="5.4" class="in"/><circle cx="976.6" cy="529.5" r="5.4" class="in"/><circle cx="829.9" cy="529.5" r="5.4"/><circle cx="849.2" cy="524.5" r="5.4"/><circle cx="866.5" cy="522.2" r="5.4"/><circle cx="883.8" cy="518.4" r="5.4"/><circle cx="898.1" cy="523.9" r="5.4"/><circle cx="846.2" cy="544.6" r="5.4"/><circle cx="867.3" cy="538.8" r="5.4"/><circle cx="880.9" cy="540.7" r="5.4"/><circle cx="901.7" cy="539.9" r="5.4"/><circle cx="915.6" cy="538.3" r="5.4"/><circle cx="889.3" cy="552.9" r="5.4"/><circle cx="919.9" cy="554.1" r="5.4"/><circle cx="938.5" cy="555.0" r="5.4"/><circle cx="1088.0" cy="457.9" r="5.4" class="in"/><circle cx="1100.6" cy="455.8" r="5.4" class="in"/><circle cx="1142.4" cy="458.8" r="5.4"/><circle cx="1167.2" cy="460.7" r="5.4"/><circle cx="1085.9" cy="474.5" r="5.4" class="in"/><circle cx="1098.1" cy="470.9" r="5.4" class="in"/><circle cx="1149.8" cy="472.1" r="5.4"/><circle cx="1182.5" cy="471.2" r="5.4"/><circle cx="1167.3" cy="478.6" r="5.4"/><circle cx="1138.6" cy="482.3" r="5.4"/><circle cx="1076.1" cy="488.2" r="5.4" class="in"/><circle cx="1089.0" cy="488.6" r="5.4" class="in"/><circle cx="1160.6" cy="493.6" r="5.4"/><circle cx="1187.4" cy="494.7" r="5.4"/><circle cx="1140.4" cy="497.0" r="5.4"/><circle cx="1062.7" cy="500.7" r="5.4" class="in"/><circle cx="1076.4" cy="502.7" r="5.4" class="in"/><circle cx="1125.1" cy="504.6" r="5.4"/><circle cx="1163.1" cy="508.9" r="5.4"/><circle cx="1050.9" cy="513.9" r="5.4" class="in"/><circle cx="1063.8" cy="514.7" r="5.4" class="in"/><circle cx="1032.2" cy="516.7" r="5.4" class="in"/><circle cx="1133.6" cy="517.1" r="5.4"/><circle cx="1150.1" cy="517.1" r="5.4"/><circle cx="988.3" cy="519.2" r="5.4" class="in"/><circle cx="1005.2" cy="521.4" r="5.4" class="in"/><circle cx="1020.4" cy="525.5" r="5.4" class="in"/><circle cx="1043.8" cy="524.5" r="5.4" class="in"/><circle cx="1180.1" cy="522.4" r="5.4"/><circle cx="1105.4" cy="530.0" r="5.4"/><circle cx="1120.5" cy="526.8" r="5.4"/><circle cx="992.9" cy="532.1" r="5.4" class="in"/><circle cx="1008.7" cy="534.5" r="5.4" class="in"/><circle cx="1031.9" cy="534.9" r="5.4" class="in"/><circle cx="1145.6" cy="535.2" r="5.4"/><circle cx="1164.2" cy="534.4" r="5.4"/><circle cx="1131.4" cy="541.3" r="5.4"/><circle cx="1177.0" cy="544.6" r="5.4"/><circle cx="1104.2" cy="545.2" r="5.4"/><circle cx="1088.0" cy="548.9" r="5.4"/><circle cx="1133.5" cy="555.2" r="5.4"/><circle cx="1156.4" cy="556.2" r="5.4"/><circle cx="1198.1" cy="458.7" r="5.4"/><circle cx="1200.4" cy="479.9" r="5.4"/><circle cx="1194.8" cy="510.1" r="5.4"/><circle cx="846.7" cy="562.6" r="5.4"/><circle cx="864.8" cy="561.2" r="5.4"/><circle cx="892.3" cy="567.0" r="5.4"/><circle cx="907.5" cy="567.4" r="5.4"/><circle cx="931.7" cy="567.0" r="5.4"/><circle cx="950.9" cy="570.9" r="5.4"/><circle cx="966.6" cy="569.9" r="5.4"/><circle cx="871.1" cy="579.1" r="5.4"/><circle cx="915.5" cy="580.3" r="5.4"/><circle cx="934.7" cy="583.6" r="5.4"/><circle cx="977.1" cy="581.5" r="5.4"/><circle cx="880.5" cy="596.0" r="5.4"/><circle cx="895.6" cy="591.9" r="5.4"/><circle cx="918.0" cy="598.2" r="5.4"/><circle cx="944.6" cy="596.5" r="5.4"/><circle cx="957.4" cy="591.1" r="5.4"/><circle cx="971.6" cy="598.2" r="5.4"/><circle cx="907.0" cy="612.3" r="5.4"/><circle cx="929.9" cy="612.9" r="5.4"/><circle cx="982.9" cy="608.9" r="5.4"/><circle cx="955.1" cy="618.4" r="5.4"/><circle cx="940.3" cy="627.8" r="5.4"/><circle cx="968.3" cy="629.6" r="5.4"/><circle cx="986.0" cy="637.9" r="5.4"/><circle cx="1069.1" cy="558.8" r="5.4"/><circle cx="1085.4" cy="562.9" r="5.4"/><circle cx="1106.6" cy="564.9" r="5.4"/><circle cx="1118.8" cy="557.9" r="5.4"/><circle cx="1153.9" cy="575.0" r="5.4"/><circle cx="1137.0" cy="583.3" r="5.4"/><circle cx="1120.1" cy="586.4" r="5.4"/><circle cx="1101.4" cy="579.0" r="5.4"/><circle cx="1083.9" cy="581.6" r="5.4"/><circle cx="1065.8" cy="572.8" r="5.4"/><circle cx="1051.2" cy="572.8" r="5.4"/><circle cx="1037.5" cy="578.6" r="5.4"/><circle cx="1021.4" cy="573.7" r="5.4"/><circle cx="989.5" cy="573.2" r="5.4"/><circle cx="1001.7" cy="581.5" r="5.4"/><circle cx="1016.8" cy="589.1" r="5.4"/><circle cx="1051.2" cy="593.0" r="5.4"/><circle cx="1066.8" cy="595.2" r="5.4"/><circle cx="1083.4" cy="598.8" r="5.4"/><circle cx="1100.3" cy="605.1" r="5.4"/><circle cx="1117.8" cy="605.5" r="5.4"/><circle cx="993.3" cy="598.5" r="5.4"/><circle cx="1028.4" cy="598.8" r="5.4"/><circle cx="1007.7" cy="606.0" r="5.4"/><circle cx="1042.3" cy="605.1" r="5.4"/><circle cx="1064.5" cy="618.1" r="5.4"/><circle cx="1083.9" cy="620.0" r="5.4"/><circle cx="1021.8" cy="621.7" r="5.4"/><circle cx="999.1" cy="627.0" r="5.4"/><circle cx="1037.5" cy="628.8" r="5.4"/><circle cx="1054.9" cy="633.0" r="5.4"/><circle cx="1016.1" cy="637.9" r="5.4"/><circle cx="1006.8" cy="436.4" r="9.3" class="ctr"/></g></g></svg>
</body></html>
